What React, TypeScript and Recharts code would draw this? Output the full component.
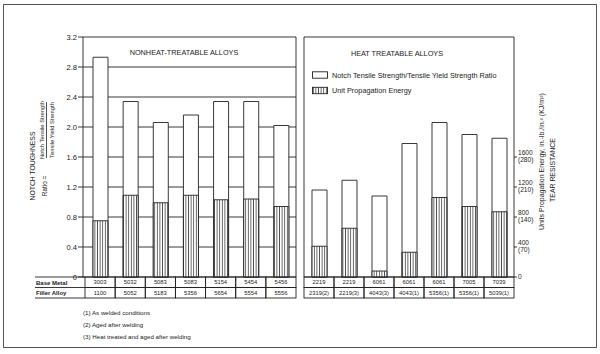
import React from "react";
import { ComposedChart, Bar, XAxis, YAxis, CartesianGrid, Legend } from "recharts";

// nonheat-treatable alloys (left panel)
const nonHeatBase = ["3003", "5032", "5083", "5083", "5154", "5454", "5456"];
const nonHeatFiller = ["1100", "5052", "5183", "5356", "5654", "5554", "5556"];
const nonHeatRatio = [2.93, 2.34, 2.06, 2.16, 2.34, 2.34, 2.02];
const nonHeatEnergy = [750, 1090, 990, 1090, 1030, 1040, 940];

// heat treatable alloys (right panel)
const heatBase = ["2219", "2219", "6061", "6061", "6061", "7005", "7039"];
const heatFiller = ["2319(2)", "2219(3)", "4043(3)", "4043(1)", "5356(1)", "5356(1)", "5039(1)"];
const heatRatio = [1.16, 1.29, 1.08, 1.78, 2.06, 1.9, 1.85];
const heatEnergy = [410, 650, 80, 330, 1060, 940, 870];

const ratioTicks = [0, 0.4, 0.8, 1.2, 1.6, 2.0, 2.4, 2.8, 3.2];
const energyTicks = [0, 400, 800, 1200, 1600];
const energyKJ = ["", "(70)", "(140)", "(210)", "(280)"];

const footnotes = [
  "(1) As welded conditions",
  "(2) Aged after welding",
  "(3) Heat treated and aged after welding",
];

const RATIO_NAME = "Notch Tensile Strength/Tensile Yield Strength Ratio";
const ENERGY_NAME = "Unit Propagation Energy";

const INK = "#222";
const FONT = "'Liberation Sans', Arial, Helvetica, sans-serif";
const CHART_H = 300;
const ROW_H = 10.5;

const toRows = (base: string[], filler: string[], ratio: number[], energy: number[]) =>
  base.map((b, i) => ({
    key: `${b}-${filler[i]}`,
    base: b,
    filler: filler[i],
    ratio: ratio[i],
    energy: energy[i],
  }));

const nonHeatData = toRows(nonHeatBase, nonHeatFiller, nonHeatRatio, nonHeatEnergy);
const heatData = toRows(heatBase, heatFiller, heatRatio, heatEnergy);

function Hatch({ id }: { id: string }) {
  return (
    <defs>
      <pattern id={id} patternUnits="userSpaceOnUse" width={2.6} height={4}>
        <rect width={2.6} height={4} fill="#fff" />
        <line x1={1.3} y1={0} x2={1.3} y2={4} stroke={INK} strokeWidth={0.75} />
      </pattern>
    </defs>
  );
}

// bottom table: one column of base metal / filler alloy per bar
function TableTick(props: any) {
  const { x, y, index, rows, cellW } = props;
  const row = rows[index];
  const left = x - cellW / 2;
  return (
    <g fontFamily={FONT} fontSize={5.8} fill={INK}>
      <rect x={left} y={y} width={cellW} height={ROW_H} fill="none" stroke={INK} strokeWidth={0.9} />
      <rect x={left} y={y + ROW_H} width={cellW} height={ROW_H} fill="none" stroke={INK} strokeWidth={0.9} />
      <text x={x} y={y + ROW_H / 2} dy="0.36em" textAnchor="middle" stroke="none">
        {row.base}
      </text>
      <text x={x} y={y + ROW_H * 1.5} dy="0.36em" textAnchor="middle" stroke="none">
        {row.filler}
      </text>
    </g>
  );
}

function EnergyTick(props: any) {
  const { x, y, payload, index } = props;
  const kj = energyKJ[index];
  return (
    <g fontFamily={FONT} fontSize={6.6} fill={INK}>
      {kj ? (
        <>
          <text x={x} y={y - 2.5} textAnchor="start">{payload.value}</text>
          <text x={x} y={y + 4.5} textAnchor="start">{kj}</text>
        </>
      ) : (
        <text x={x} y={y} dy="0.36em" textAnchor="start">{payload.value}</text>
      )}
    </g>
  );
}

function LegendBox(props: any) {
  const { payload = [] } = props;
  return (
    <svg width={200} height={30} style={{ display: "block" }}>
      <Hatch id="hatchLegend" />
      {payload.map((entry: any, i: number) => {
        const cy = 4 + i * 15.5;
        return (
          <g key={entry.value}>
            <rect
              x={0.5}
              y={cy - 3.2}
              width={15}
              height={6.4}
              fill={entry.dataKey === "energy" ? "url(#hatchLegend)" : "#fff"}
              stroke={INK}
              strokeWidth={0.9}
            />
            <text x={20} y={cy} dy="0.36em" fontFamily={FONT} fontSize={7.3} fill={INK}>
              {entry.value}
            </text>
          </g>
        );
      })}
    </svg>
  );
}

const tickFont = { fontFamily: FONT, fontSize: 7.6, fill: INK };

export default function App() {
  const leftW = 300;
  const leftAxisW = 83;
  const leftPad = 2;
  const leftCell = (leftW - leftAxisW - 4 - leftPad) / nonHeatData.length;
  const rightW = 260;
  const rightAxisW = 46;
  const rightCell = (rightW - 4 - rightAxisW) / heatData.length;

  return (
    <div
      style={{
        position: "absolute",
        left: 0,
        top: 0,
        width: 600,
        height: 354,
        background: "#fff",
        fontFamily: FONT,
      }}
    >
      <div style={{ position: "absolute", left: 0, top: 0 }}>
        <ComposedChart
          width={leftW}
          height={CHART_H}
          data={nonHeatData}
          margin={{ top: 37, right: 0, bottom: 2, left: 0 }}
          barSize={15}
          barGap={-15}
        >
          <Hatch id="hatchA" />
          <CartesianGrid yAxisId="ratio" vertical={false} stroke={INK} strokeWidth={0.9} />
          <XAxis
            dataKey="key"
            height={21}
            interval={0}
            padding={{ left: leftPad, right: 0 }}
            axisLine={false}
            tickLine={false}
            tickSize={0}
            tickMargin={0}
            tick={<TableTick rows={nonHeatData} cellW={leftCell} />}
          />
          <YAxis
            yAxisId="ratio"
            domain={[0, 3.2]}
            ticks={ratioTicks}
            width={leftAxisW}
            tick={tickFont}
            tickSize={5}
            tickMargin={1}
            tickFormatter={(v: number) => (v === 0 ? "0" : v.toFixed(1))}
            axisLine={{ stroke: INK, strokeWidth: 0.9 }}
            tickLine={{ stroke: INK, strokeWidth: 0.9 }}
          />
          <YAxis
            yAxisId="energy"
            orientation="right"
            domain={[0, 3200]}
            width={4}
            tick={false}
            tickLine={false}
            axisLine={{ stroke: INK, strokeWidth: 0.9 }}
          />
          <Bar yAxisId="ratio" dataKey="ratio" name={RATIO_NAME} fill="#fff" stroke={INK} strokeWidth={0.9} isAnimationActive={false} />
          <Bar yAxisId="energy" dataKey="energy" name={ENERGY_NAME} fill="url(#hatchA)" stroke={INK} strokeWidth={0.9} isAnimationActive={false} />
        </ComposedChart>
      </div>

      <div style={{ position: "absolute", left: 300, top: 0 }}>
        <ComposedChart
          width={rightW}
          height={CHART_H}
          data={heatData}
          margin={{ top: 37, right: 0, bottom: 2, left: 0 }}
          barSize={15}
          barGap={-15}
        >
          <Hatch id="hatchB" />
          <CartesianGrid yAxisId="ratio" vertical={false} stroke={INK} strokeWidth={0.9} />
          <XAxis
            dataKey="key"
            height={21}
            interval={0}
            axisLine={false}
            tickLine={false}
            tickSize={0}
            tickMargin={0}
            tick={<TableTick rows={heatData} cellW={rightCell} />}
          />
          <YAxis
            yAxisId="ratio"
            domain={[0, 3.2]}
            ticks={ratioTicks}
            width={4}
            tick={false}
            tickLine={false}
            axisLine={{ stroke: INK, strokeWidth: 0.9 }}
          />
          <YAxis
            yAxisId="energy"
            orientation="right"
            domain={[0, 3200]}
            ticks={energyTicks}
            width={rightAxisW}
            tick={<EnergyTick />}
            tickSize={3}
            tickMargin={1}
            axisLine={{ stroke: INK, strokeWidth: 0.9 }}
            tickLine={{ stroke: INK, strokeWidth: 0.9 }}
          />
          <Legend
            layout="horizontal"
            verticalAlign="middle"
            align="center"
            content={<LegendBox />}
            wrapperStyle={{ left: 12, top: 71, width: 200, height: 30 }}
          />
          <Bar yAxisId="ratio" dataKey="ratio" name={RATIO_NAME} fill="#fff" stroke={INK} strokeWidth={0.9} isAnimationActive={false} />
          <Bar yAxisId="energy" dataKey="energy" name={ENERGY_NAME} fill="url(#hatchB)" stroke={INK} strokeWidth={0.9} isAnimationActive={false} />
        </ComposedChart>
      </div>

      <svg
        width={600}
        height={354}
        style={{ position: "absolute", left: 0, top: 0, pointerEvents: "none" }}
        fontFamily={FONT}
        fill={INK}
      >
        <rect x={3.5} y={4.5} width={593} height={343} fill="none" stroke="#555" strokeWidth={1} />

        <text x={184} y={52} dy="0.36em" textAnchor="middle" fontSize={7.3}>
          NONHEAT-TREATABLE ALLOYS
        </text>
        <text x={397} y={53} dy="0.36em" textAnchor="middle" fontSize={7.3}>
          HEAT TREATABLE ALLOYS
        </text>

        <text transform="translate(33,166) rotate(-90)" textAnchor="middle" dy="0.36em" fontSize={6.8}>
          NOTCH TOUGHNESS
        </text>
        <text transform="translate(45,186) rotate(-90)" textAnchor="middle" dy="0.36em" fontSize={6.4}>
          Ratio  =
        </text>
        <text transform="translate(41.5,130) rotate(-90)" textAnchor="middle" dy="0.36em" fontSize={5.8}>
          Notch Tensile Strength
        </text>
        <line x1={46.5} y1={102} x2={46.5} y2={158} stroke={INK} strokeWidth={0.8} />
        <text transform="translate(51.5,130) rotate(-90)" textAnchor="middle" dy="0.36em" fontSize={5.8}>
          Tensile Yield Strength
        </text>

        <text transform="translate(541.5,230) rotate(-90)" textAnchor="start" dy="0.36em" fontSize={7}>
          Units Propagation Energy, in.-lb./in.² (KJ/m²)
        </text>
        <text transform="translate(553,170) rotate(-90)" textAnchor="middle" dy="0.36em" fontSize={6.9}>
          TEAR RESISTANCE
        </text>

        <g stroke={INK} strokeWidth={0.9}>
          <line x1={35} y1={277} x2={85} y2={277} />
          <line x1={35} y1={287.5} x2={85} y2={287.5} />
          <line x1={35} y1={298} x2={85} y2={298} />
        </g>
        <text x={36} y={282.5} dy="0.36em" fontSize={6} fontWeight={600}>
          Base Metal
        </text>
        <text x={36} y={293} dy="0.36em" fontSize={6} fontWeight={600}>
          Filler Alloy
        </text>

        {footnotes.map((f, i) => (
          <text key={f} x={83} y={313 + i * 11.7} dy="0.36em" fontSize={6.2}>
            {f}
          </text>
        ))}
      </svg>
    </div>
  );
}
